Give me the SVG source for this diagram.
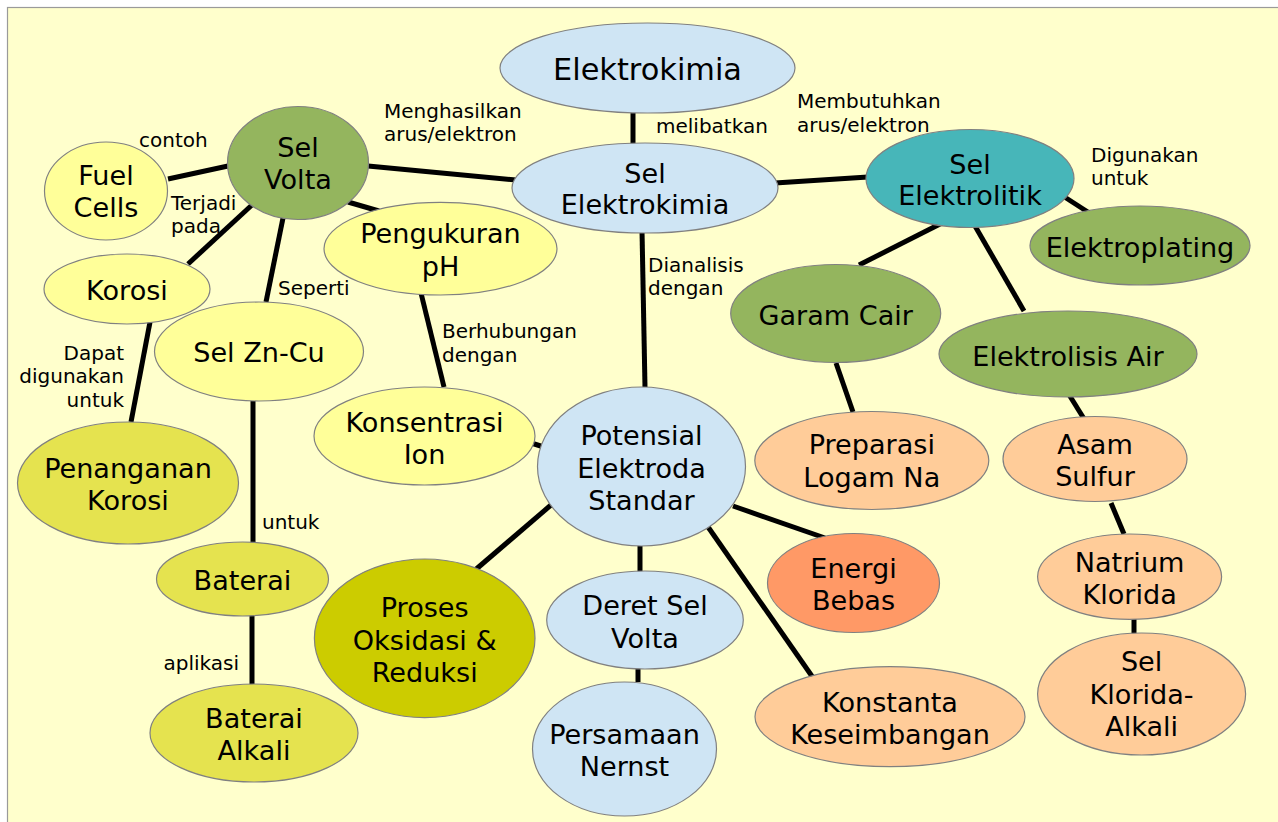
<svg xmlns="http://www.w3.org/2000/svg" width="1278" height="822" viewBox="0 0 1278 822">
<style>
.n ellipse{stroke:#808080;stroke-width:1.2}
.n text{font-family:"DejaVu Sans",sans-serif;font-size:27.1px;fill:#000;text-anchor:middle}
.lbl{font-family:"DejaVu Sans",sans-serif;font-size:20px;fill:#000}
.edges line{stroke:#000;stroke-width:5}
.blue{fill:#cfe5f4}.olive{fill:#94b55e}.teal{fill:#47b6b9}.ly{fill:#ffff99}.yg{fill:#e5e34f}.ox{fill:#cccc00}.peach{fill:#ffcc99}.orange{fill:#ff9966}
</style>
<rect x="0" y="0" width="1278" height="822" fill="#ffffff"/>
<rect x="7.5" y="7.5" width="1280" height="830" fill="#ffffcc" stroke="#9a9a9a" stroke-width="1.2"/>
<g class="edges" id="connectors">
<line x1="633" y1="112" x2="633" y2="144"/>
<line x1="368" y1="166" x2="516" y2="180"/>
<line x1="775" y1="183" x2="868" y2="177"/>
<line x1="168" y1="179" x2="228" y2="166"/>
<line x1="253" y1="204" x2="188" y2="264"/>
<line x1="283" y1="218" x2="266" y2="302"/>
<line x1="348" y1="202" x2="379" y2="211"/>
<line x1="150" y1="322" x2="131" y2="422"/>
<line x1="253" y1="401" x2="253" y2="543"/>
<line x1="252" y1="615" x2="252" y2="685"/>
<line x1="421" y1="293" x2="444" y2="387"/>
<line x1="642" y1="230" x2="645" y2="387"/>
<line x1="528" y1="442" x2="547" y2="448"/>
<line x1="551" y1="505" x2="474" y2="571"/>
<line x1="640" y1="540" x2="640" y2="572"/>
<line x1="638" y1="663" x2="638" y2="682"/>
<line x1="706" y1="524" x2="816" y2="682"/>
<line x1="733" y1="506" x2="825" y2="538"/>
<line x1="1063" y1="196" x2="1094" y2="216"/>
<line x1="942" y1="223" x2="859" y2="265"/>
<line x1="975" y1="226" x2="1024" y2="311"/>
<line x1="836" y1="363" x2="853" y2="412"/>
<line x1="1068" y1="393" x2="1086" y2="422"/>
<line x1="1111" y1="503" x2="1124" y2="534"/>
<line x1="1134" y1="617" x2="1134" y2="640"/>
</g>
<g id="labels">
<text class="lbl" x="139" y="147">contoh</text>
<text class="lbl" x="171" y="210">Terjadi</text>
<text class="lbl" x="171" y="233">pada</text>
<text class="lbl" x="384" y="118">Menghasilkan</text>
<text class="lbl" x="384" y="141">arus/elektron</text>
<text class="lbl" x="656" y="133">melibatkan</text>
<text class="lbl" x="797" y="108">Membutuhkan</text>
<text class="lbl" x="797" y="132">arus/elektron</text>
<text class="lbl" x="1091" y="162">Digunakan</text>
<text class="lbl" x="1091" y="185">untuk</text>
<text class="lbl" x="278" y="295">Seperti</text>
<text class="lbl" x="124" y="360" text-anchor="end">Dapat</text>
<text class="lbl" x="124" y="383" text-anchor="end">digunakan</text>
<text class="lbl" x="124" y="407" text-anchor="end">untuk</text>
<text class="lbl" x="262" y="529">untuk</text>
<text class="lbl" x="239" y="670" text-anchor="end">aplikasi</text>
<text class="lbl" x="442" y="338">Berhubungan</text>
<text class="lbl" x="442" y="362">dengan</text>
<text class="lbl" x="648" y="272">Dianalisis</text>
<text class="lbl" x="648" y="295">dengan</text>
</g>
<g class="n" id="elektrokimia"><ellipse class="blue" cx="647.5" cy="68" rx="147.5" ry="45"/><text x="647.5" y="80" style="font-size:30.4px">Elektrokimia</text></g>
<g class="n" id="sel-elektrokimia"><ellipse class="blue" cx="645" cy="188" rx="133" ry="45"/><text x="645" y="183">Sel</text><text x="645" y="214">Elektrokimia</text></g>
<g class="n" id="sel-volta"><ellipse class="olive" cx="298" cy="163" rx="70.5" ry="56.5"/><text x="298" y="157">Sel</text><text x="298" y="189">Volta</text></g>
<g class="n" id="fuel-cells"><ellipse class="ly" cx="106" cy="191" rx="61.5" ry="49"/><text x="106" y="185">Fuel</text><text x="106" y="217">Cells</text></g>
<g class="n" id="korosi"><ellipse class="ly" cx="127" cy="289" rx="83" ry="35"/><text x="127" y="300">Korosi</text></g>
<g class="n" id="sel-zn-cu"><ellipse class="ly" cx="259" cy="351.5" rx="104.5" ry="49.5"/><text x="259" y="362">Sel Zn-Cu</text></g>
<g class="n" id="pengukuran-ph"><ellipse class="ly" cx="440.5" cy="248.7" rx="116.5" ry="46.3"/><text x="440.5" y="243">Pengukuran</text><text x="440.5" y="276">pH</text></g>
<g class="n" id="konsentrasi-ion"><ellipse class="ly" cx="424.5" cy="436" rx="110.5" ry="49"/><text x="424.5" y="432">Konsentrasi</text><text x="424.5" y="463.5">Ion</text></g>
<g class="n" id="potensial"><ellipse class="blue" cx="641.5" cy="466.5" rx="104" ry="79.5"/><text x="641.5" y="445">Potensial</text><text x="641.5" y="478">Elektroda</text><text x="641.5" y="510">Standar</text></g>
<g class="n" id="proses"><ellipse class="ox" cx="424.7" cy="638.3" rx="110.3" ry="79.3"/><text x="424.7" y="617">Proses</text><text x="424.7" y="649.5">Oksidasi &amp;</text><text x="424.7" y="682">Reduksi</text></g>
<g class="n" id="deret-sel-volta"><ellipse class="blue" cx="645" cy="620" rx="98.3" ry="49"/><text x="645" y="615">Deret Sel</text><text x="645" y="648">Volta</text></g>
<g class="n" id="persamaan-nernst"><ellipse class="blue" cx="624.5" cy="749" rx="92" ry="67"/><text x="624.5" y="744">Persamaan</text><text x="624.5" y="776">Nernst</text></g>
<g class="n" id="penanganan-korosi"><ellipse class="yg" cx="128" cy="483" rx="110.5" ry="61"/><text x="128" y="478">Penanganan</text><text x="128" y="509.5">Korosi</text></g>
<g class="n" id="baterai"><ellipse class="yg" cx="242.5" cy="579" rx="86" ry="37"/><text x="242.5" y="589.5">Baterai</text></g>
<g class="n" id="baterai-alkali"><ellipse class="yg" cx="254" cy="733" rx="104" ry="49"/><text x="254" y="727.5">Baterai</text><text x="254" y="759.5">Alkali</text></g>
<g class="n" id="sel-elektrolitik"><ellipse class="teal" cx="970" cy="178.5" rx="104" ry="49"/><text x="970" y="173.5">Sel</text><text x="970" y="205">Elektrolitik</text></g>
<g class="n" id="elektroplating"><ellipse class="olive" cx="1140" cy="245.5" rx="110" ry="39.5"/><text x="1140" y="257">Elektroplating</text></g>
<g class="n" id="garam-cair"><ellipse class="olive" cx="835.7" cy="313.5" rx="105" ry="49"/><text x="835.7" y="324.5">Garam Cair</text></g>
<g class="n" id="elektrolisis-air"><ellipse class="olive" cx="1068" cy="354" rx="129" ry="43"/><text x="1068" y="366">Elektrolisis Air</text></g>
<g class="n" id="preparasi-logam-na"><ellipse class="peach" cx="871.8" cy="460.5" rx="117" ry="49"/><text x="871.8" y="453.5">Preparasi</text><text x="871.8" y="486.5">Logam Na</text></g>
<g class="n" id="asam-sulfur"><ellipse class="peach" cx="1095" cy="459" rx="92" ry="42.5"/><text x="1095" y="453.5">Asam</text><text x="1095" y="486">Sulfur</text></g>
<g class="n" id="energi-bebas"><ellipse class="orange" cx="853.5" cy="583" rx="86" ry="49.5"/><text x="853.5" y="577.5">Energi</text><text x="853.5" y="610">Bebas</text></g>
<g class="n" id="natrium-klorida"><ellipse class="peach" cx="1129.6" cy="576.7" rx="92" ry="42.7"/><text x="1129.6" y="572">Natrium</text><text x="1129.6" y="603.5">Klorida</text></g>
<g class="n" id="sel-klorida-alkali"><ellipse class="peach" cx="1141.6" cy="694" rx="104" ry="61"/><text x="1141.6" y="671">Sel</text><text x="1141.6" y="703.5">Klorida-</text><text x="1141.6" y="736">Alkali</text></g>
<g class="n" id="konstanta-keseimbangan"><ellipse class="peach" cx="890" cy="716.7" rx="135" ry="50"/><text x="890" y="712">Konstanta</text><text x="890" y="744">Keseimbangan</text></g>
</svg>
